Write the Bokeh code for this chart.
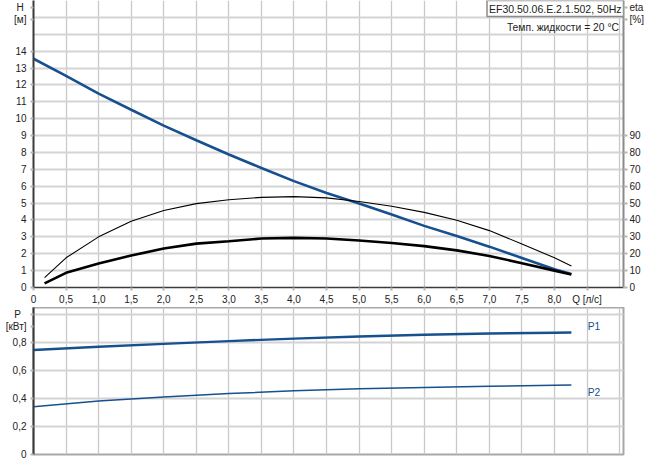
from bokeh.plotting import figure
from bokeh.layouts import column
from bokeh.models import Range1d, LinearAxis, FixedTicker, Label
from bokeh.embed import file_html
from bokeh.resources import INLINE

# ---------------- data ----------------
q_h = [0, 0.5, 1.0, 1.5, 2.0, 2.5, 3.0, 3.5, 4.0, 4.5, 5.0, 5.5, 6.0, 6.5, 7.0, 7.5, 8.0, 8.26]
h_vals = [13.55, 12.53, 11.48, 10.53, 9.59, 8.72, 7.88, 7.08, 6.30, 5.60, 4.97, 4.32, 3.65, 3.05, 2.42, 1.75, 1.08, 0.80]

q_eta = [0.17, 0.5, 1.0, 1.5, 2.0, 2.5, 3.0, 3.5, 4.0, 4.5, 5.0, 5.5, 6.0, 6.5, 7.0, 7.5, 8.0, 8.26]
eta_pump = [5.9, 17.6, 30.0, 39.2, 45.6, 49.7, 52.0, 53.4, 53.8, 53.1, 50.9, 48.1, 44.5, 39.8, 33.7, 25.8, 17.6, 12.8]
eta_total = [2.4, 8.7, 14.2, 18.9, 23.1, 26.0, 27.4, 29.0, 29.4, 29.0, 27.8, 26.4, 24.5, 22.0, 18.7, 14.4, 10.0, 7.7]

q_p = [0, 1.0, 2.0, 3.0, 4.0, 5.0, 6.0, 7.0, 8.0, 8.26]
p1_vals = [0.746, 0.770, 0.790, 0.810, 0.828, 0.843, 0.855, 0.864, 0.870, 0.871]
p2_vals = [0.341, 0.382, 0.410, 0.435, 0.455, 0.469, 0.479, 0.487, 0.494, 0.496]

x_ticks = [i * 0.5 for i in range(18)]
x_tick_labels = ["0", "0,5", "1,0", "1,5", "2,0", "2,5", "3,0", "3,5", "4,0", "4,5",
                 "5,0", "5,5", "6,0", "6,5", "7,0", "7,5", "8,0", "Q [л/с]"]
x_grid = [i * 0.5 for i in range(19)]
h_ticks = list(range(0, 15))
h_grid = list(range(0, 18))
eta_ticks = list(range(0, 100, 10))
p_ticks = [0, 0.2, 0.4, 0.6, 0.8, 1.0]
p_tick_labels = ["0", "0,2", "0,4", "0,6", "0,8", "P\u00a0\u00a0"]

title_text = "EF30.50.06.E.2.1.502, 50Hz"
temp_text = "Темп. жидкости = 20 °C"

X_END = 9.06
H_END = 17.0
ETA_END = 170.0
P_END = 1.05

FONT = "Liberation Sans"
TXT = "#222222"
BLUE = "#17508f"
GRID = "#d4d4d4"
VGRID = "#c9c9c9"

W = 649
TOP_H = 307
BOT_H = 155

# ---------------- top figure ----------------
xr = Range1d(0, X_END)
p = figure(width=W, height=TOP_H, x_range=xr, y_range=Range1d(0, H_END),
           output_backend="svg", toolbar_location=None,
           min_border_left=33, min_border_right=26, min_border_top=0, min_border_bottom=19)
p.extra_y_ranges = {"eta": Range1d(0, ETA_END)}
p.outline_line_color = None
p.background_fill_color = "white"

p.ygrid.ticker = FixedTicker(ticks=h_grid)
p.ygrid.grid_line_color = GRID
p.ygrid.grid_line_width = 2
p.xgrid.ticker = FixedTicker(ticks=x_grid)
p.xgrid.grid_line_color = VGRID
p.xgrid.grid_line_width = 1.3

h_label_ticks = [16.58, 15.87]
for ax in p.yaxis:
    ax.ticker = FixedTicker(ticks=h_ticks + h_label_ticks)
    ax.major_label_overrides = {16.58: "H\u00a0", 15.87: "[м]"}
    ax.axis_line_color = "#3a3a3a"
    ax.axis_line_width = 2
for ax in p.xaxis:
    ax.ticker = FixedTicker(ticks=x_ticks)
    ax.major_label_overrides = {t: l for t, l in zip(x_ticks, x_tick_labels)}
    ax.axis_line_color = "#3a3a3a"
    ax.axis_line_width = 1.5

eta_label_ticks = [165.8, 158.7]
eta_axis = LinearAxis(y_range_name="eta", ticker=FixedTicker(ticks=eta_ticks + eta_label_ticks))
eta_axis.major_label_overrides = {165.8: "eta", 158.7: "[%]"}
eta_axis.axis_line_color = "#8a8a8a"
eta_axis.axis_line_width = 2
p.add_layout(eta_axis, "right")

for ax in list(p.xaxis) + list(p.yaxis) + [eta_axis]:
    ax.major_tick_in = 0
    ax.major_tick_out = 3
    ax.major_tick_line_color = "#b5b5b5"
    ax.major_tick_line_width = 2
    ax.minor_tick_line_color = None
    ax.major_label_text_font = FONT
    ax.major_label_text_font_size = "10px"
    ax.major_label_text_color = TXT
    ax.major_label_standoff = 4
eta_axis.major_tick_out = 4
eta_axis.major_label_standoff = 2
for ax in p.xaxis:
    ax.major_label_standoff = 3

p.line(q_h, h_vals, line_color=BLUE, line_width=2.6)
p.line(q_eta, eta_pump, y_range_name="eta", line_color="black", line_width=1.1)
p.line(q_eta, eta_total, y_range_name="eta", line_color="black", line_width=2.6)

p.add_layout(Label(x=X_END, y=H_END, text=title_text, text_font=FONT, text_font_size="10.5px",
                   text_color=TXT, text_align="right", text_baseline="top",
                   border_line_color="#8a8a8a", border_line_width=1.5,
                   background_fill_color="white", padding=2))
p.add_layout(Label(x=8.99, y=15.42, text=temp_text, text_font=FONT, text_font_size="10.3px",
                   text_color=TXT, text_align="right", text_baseline="middle"))

# ---------------- bottom figure ----------------
b = figure(width=W, height=BOT_H, x_range=xr, y_range=Range1d(0, P_END),
           output_backend="svg", toolbar_location=None,
           min_border_left=33, min_border_right=26, min_border_top=0, min_border_bottom=8)
b.outline_line_color = "#a8a8a8"
b.outline_line_width = 2
b.xaxis.visible = False
b.xgrid.ticker = FixedTicker(ticks=x_grid)
b.xgrid.grid_line_color = VGRID
b.xgrid.grid_line_width = 1.3
b.ygrid.ticker = FixedTicker(ticks=p_ticks)
b.ygrid.grid_line_color = GRID
b.ygrid.grid_line_width = 2
p_label_tick = 0.917
for ax in b.yaxis:
    ax.ticker = FixedTicker(ticks=p_ticks + [p_label_tick])
    overrides = {t: l for t, l in zip(p_ticks, p_tick_labels)}
    overrides[p_label_tick] = "[кВт]"
    ax.major_label_overrides = overrides
    ax.axis_line_color = "#3a3a3a"
    ax.axis_line_width = 2
    ax.major_tick_in = 0
    ax.major_tick_out = 3
    ax.major_tick_line_color = "#b5b5b5"
    ax.major_tick_line_width = 2
    ax.minor_tick_line_color = None
    ax.major_label_text_font = FONT
    ax.major_label_text_font_size = "10px"
    ax.major_label_text_color = TXT
    ax.major_label_standoff = 4

b.line(q_p, p1_vals, line_color=BLUE, line_width=2.4)
b.line(q_p, p2_vals, line_color=BLUE, line_width=1.5)
b.add_layout(Label(x=8.51, y=0.917, text="P1", text_font=FONT, text_font_size="10.3px",
                   text_color=BLUE, text_align="left", text_baseline="middle"))
b.add_layout(Label(x=8.51, y=0.44, text="P2", text_font=FONT, text_font_size="10.3px",
                   text_color=BLUE, text_align="left", text_baseline="middle"))

layout = column(p, b, spacing=0)
open("out.html", "w").write(file_html(layout, INLINE))
